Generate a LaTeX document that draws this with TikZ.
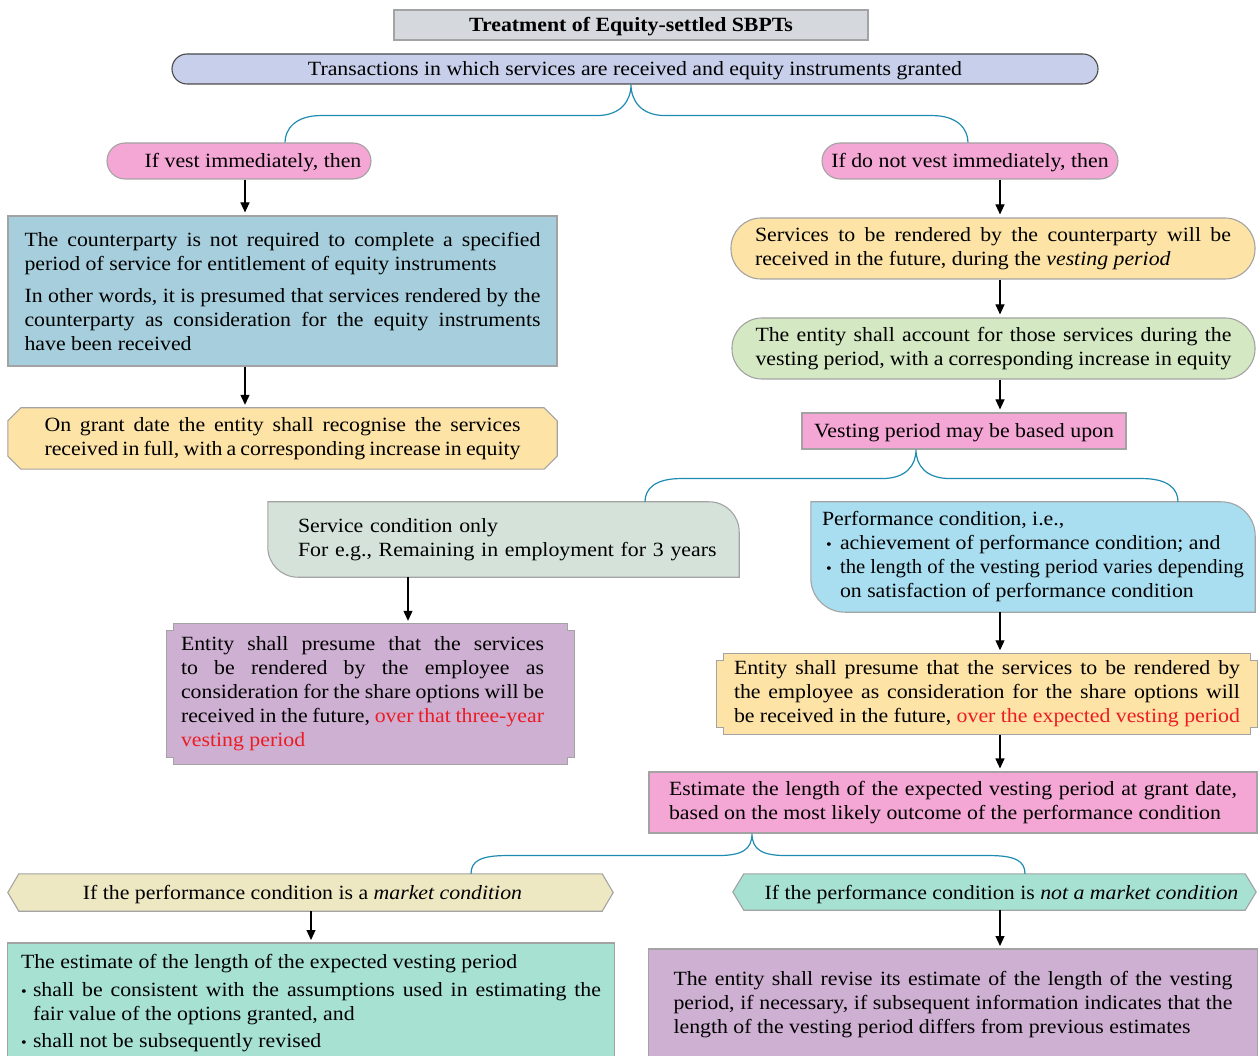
\documentclass[tikz,border=0pt]{standalone}
\usepackage{fontspec}
\usepackage{graphicx}
\setmainfont{Liberation Serif}[FakeStretch=1.08]
\usetikzlibrary{arrows.meta,calc,backgrounds}

\definecolor{edge}{HTML}{A3A3A3}
\definecolor{titlefill}{HTML}{D5D8DD}
\definecolor{transfill}{HTML}{C8CFEA}
\definecolor{transedge}{HTML}{4A4A4A}
\definecolor{pinkfill}{HTML}{F4A6D4}
\definecolor{bluefill}{HTML}{A6CEDC}
\definecolor{yellowfill}{HTML}{FDE3A6}
\definecolor{greenfill}{HTML}{D3E8C3}
\definecolor{sagefill}{HTML}{D4E2DA}
\definecolor{skyfill}{HTML}{A9DEF1}
\definecolor{plumfill}{HTML}{CEB0D2}
\definecolor{khakifill}{HTML}{EEE8C2}
\definecolor{mintfill}{HTML}{A6E1D2}
\definecolor{alert}{HTML}{EC1C24}
\definecolor{bracecol}{HTML}{1E8BB0}

\tikzset{
  txt/.style={font=\fontsize{20.2}{24}\selectfont, inner sep=0pt, align=center},
  oneline/.style={font=\fontsize{20.2}{24}\selectfont, inner sep=0pt, text height=17pt, text depth=3pt},
  para/.style={txt, align=justify, text width=#1},
  boxline/.style={draw=edge, line width=1.1pt},
  plainbox/.style={boxline, fill=#1},
  arr/.style={-{Triangle[length=10pt,width=9pt]}, line width=1.1pt, shorten >=3pt},
  brace/.style={draw=bracecol, line width=1.2pt},
}

% box outlines drawn around an (invisible) node
\newcommand\chamferpath[3]{%
  \path[#3] ($(#1.north west)+(#2,0)$) -- ($(#1.north east)+(-#2,0)$)
    -- ($(#1.north east)+(0,#2)$) -- ($(#1.south east)+(0,-#2)$)
    -- ($(#1.south east)+(-#2,0)$) -- ($(#1.south west)+(#2,0)$)
    -- ($(#1.south west)+(0,-#2)$) -- ($(#1.north west)+(0,#2)$) -- cycle;}
\newcommand\hexpath[3]{%
  \path[#3] ($(#1.north west)+(#2,0)$) -- ($(#1.north east)+(-#2,0)$)
    -- (#1.east) -- ($(#1.south east)+(-#2,0)$)
    -- ($(#1.south west)+(#2,0)$) -- (#1.west) -- cycle;}
% notched corners; #3 widens the outline to the right of the node
\newcommand\notchpath[4]{%
  \coordinate (nNE) at ($(#1.north east)+(#3,0)$);
  \coordinate (nSE) at ($(#1.south east)+(#3,0)$);
  \path[#4] ($(#1.north west)+(#2,0)$) -- ($(nNE)+(-#2,0)$)
    -- ($(nNE)+(-#2,#2)$) -- ($(nNE)+(0,#2)$)
    -- ($(nSE)+(0,-#2)$) -- ($(nSE)+(-#2,-#2)$)
    -- ($(nSE)+(-#2,0)$) -- ($(#1.south west)+(#2,0)$)
    -- ($(#1.south west)+(#2,-#2)$) -- ($(#1.south west)+(0,-#2)$)
    -- ($(#1.north west)+(0,#2)$) -- ($(#1.north west)+(#2,#2)$) -- cycle;}
\newcommand\halfroundpath[3]{%
  \path[#3] (#1.north west) -- ($(#1.north east)+(-#2,0)$)
    arc[start angle=90,end angle=0,radius=#2pt]
    -- (#1.south east) -- ($(#1.south west)+(#2,0)$)
    arc[start angle=270,end angle=180,radius=#2pt] -- cycle;}
% curly split from a parent into two children
\newcommand\fork[4]{%
  \coordinate (lvl) at ($(#1)+(0,#4)$);
  \draw[brace] (#2)
    .. controls ($(#2)+(0,-13)$) and ($(#2|-lvl)+(10,0)$) .. ($(#2|-lvl)+(36,0)$)
    -- ($(#1|-lvl)+(-34,0)$)
    .. controls ($(#1|-lvl)+(-10,0)$) and ($(#1)+(0,16)$) .. (#1)
    .. controls ($(#1)+(0,16)$) and ($(#1|-lvl)+(10,0)$) .. ($(#1|-lvl)+(34,0)$)
    -- ($(#3|-lvl)+(-36,0)$)
    .. controls ($(#3|-lvl)+(-10,0)$) and ($(#3)+(0,-13)$) .. (#3);}
\newcommand\bul[1]{\makebox[#1][l]{\fontsize{15}{15}\selectfont •}}

\begin{document}
\hyphenpenalty=10000
\exhyphenpenalty=10000
\emergencystretch=20pt
\begin{tikzpicture}[x=1pt,y=-1pt]
\useasboundingbox (0,0) rectangle (1259,1056);

% header
\node[oneline, plainbox=titlefill, minimum width=474pt, minimum height=30pt,
      font=\fontsize{20.2}{24}\selectfont\bfseries] (title) at (631,25)
      {Treatment of Equity-settled SBPTs};
\node[oneline, boxline, draw=transedge, fill=transfill, rounded corners=15pt,
      minimum width=926pt, minimum height=30pt] (trans) at (635,69)
      {Transactions in which services are received and equity instruments granted};

% first split
\node[oneline, boxline, fill=pinkfill, rounded corners=18pt, minimum width=264pt,
      minimum height=36pt] (vestY) at (239,161) {\hspace*{28pt}If vest immediately, then};
\node[oneline, boxline, fill=pinkfill, rounded corners=18pt, minimum width=296pt,
      minimum height=36pt] (vestN) at (970,161) {If do not vest immediately, then};

% left column
\node[para=516pt, plainbox=bluefill, minimum width=549pt, minimum height=150pt]
      (blueL) at (282.5,291)
      {The counterparty is not required to complete a specified period of service for entitlement of equity instruments\par\vspace{8pt}
       In other words, it is presumed that services rendered by the\linebreak counterparty as consideration for the equity instruments have been received\par};
\node[para=476pt, minimum width=549pt, minimum height=61pt] (grantY) at (282.5,438.5)
      {On grant date the entity shall recognise the services received in full, with a corresponding increase in equity\par};

% right column
\node[para=476pt, boxline, fill=yellowfill, rounded corners=30pt, minimum width=524pt,
      minimum height=61pt] (servY) at (993,248.5)
      {Services to be rendered by the counterparty will be received in the future, during the \textit{vesting period}\par};
\node[para=476pt, boxline, fill=greenfill, rounded corners=30pt, minimum width=523pt,
      minimum height=61pt] (acct) at (993.5,348.5)
      {The entity shall account for those services during the vesting period, with a corresponding increase in equity\par};
\node[oneline, plainbox=pinkfill, minimum width=324pt, minimum height=36pt] (basis) at (964,431)
      {Vesting period may be based upon};

% second split
\node[txt, align=left, text width=411pt, minimum width=471pt, minimum height=75pt]
      (svc) at (503.5,539.5)
      {Service condition only\\\mbox{For e.g., Remaining in employment for 3 years}};
\node[para=422pt, minimum width=444pt, minimum height=110pt] (perf) at (1033,557)
      {Performance condition, i.e.,\par
       \hangindent=18pt\hangafter=1\noindent\hspace*{4pt}\bul{14pt}achievement of performance condition; and\par
       \hangindent=18pt\hangafter=1\noindent\hspace*{4pt}\bul{14pt}\resizebox{404pt}{\height}{the length of the vesting period varies depending} on satisfaction of performance condition\par};

\node[para=363pt, minimum width=391pt, minimum height=140pt] (plum) at (362.5,694)
      {Entity shall presume that the services to be rendered by the employee as consideration for the share options will be received in the future, \textcolor{alert}{over that three-year vesting period}\par};
\node[para=506pt, minimum width=540pt, minimum height=81pt] (expect) at (987,694)
      {Entity shall presume that the services to be rendered by the employee as consideration for the share options will\linebreak be received in the future, \textcolor{alert}{over the expected vesting period}\par};
\node[para=568pt, plainbox=pinkfill, minimum width=608pt, minimum height=61pt] (estim) at (953,802.5)
      {Estimate the length of the expected vesting period at grant date, based on the most likely outcome of the performance condition\par};

% third split
\node[oneline, minimum width=605pt, minimum height=37pt] (mkt) at (310.5,892.5)
      {\hspace*{-16pt}If the performance condition is a \textit{market condition}};
\node[oneline, minimum width=523pt, minimum height=36pt] (notmkt) at (994.5,892)
      {\hspace*{14pt}If the performance condition is \textit{not a market condition}};

\node[para=580pt, anchor=north, minimum width=606pt, inner ysep=11pt] (fixed) at (311,943)
      {The estimate of the length of the expected vesting period\par\vspace{4pt}
       \hangindent=12pt\hangafter=1\noindent\bul{12pt}shall be consistent with the assumptions used in estimating the\linebreak fair value of the options granted, and\par\vspace{3pt}
       \hangindent=12pt\hangafter=1\noindent\bul{12pt}shall not be subsequently revised\par};
\node[para=559pt, anchor=north, minimum width=608pt, inner ysep=22pt] (revise) at (953,949)
      {The entity shall revise its estimate of the length of the vesting period, if necessary, if subsequent information indicates that the length of the vesting period differs from previous estimates\par};

\begin{pgfonlayer}{background}
  \chamferpath{grantY}{13}{boxline, fill=yellowfill}
  \halfroundpath{svc}{30}{boxline, fill=sagefill}
  \halfroundpath{perf}{34}{boxline, fill=skyfill}
  \notchpath{plum}{7}{16}{boxline, fill=plumfill}
  \notchpath{expect}{7}{0}{boxline, fill=yellowfill}
  \hexpath{mkt}{11}{boxline, fill=khakifill}
  \hexpath{notmkt}{11}{boxline, fill=mintfill}
  \path[boxline, fill=mintfill] (fixed.north west) rectangle ($(fixed.north east)+(0,140)$);
  \path[boxline, fill=plumfill] (revise.north west) rectangle ($(revise.north east)+(0,140)$);
\end{pgfonlayer}

% arrow columns
\coordinate (cL) at (245,0);
\coordinate (cR) at (1000,0);
\coordinate (cS) at (408,0);
\coordinate (cM) at (311,0);
\draw[arr] (vestY.south -| cL) -- (blueL.north -| cL);
\draw[arr] (blueL.south -| cL) -- (grantY.north -| cL);
\draw[arr] (vestN.south -| cR) -- (servY.north -| cR);
\draw[arr] (servY.south -| cR) -- (acct.north -| cR);
\draw[arr] (acct.south -| cR) -- (basis.north -| cR);
\draw[arr] (svc.south -| cS) -- (plum.north -| cS);
\draw[arr] (perf.south -| cR) -- (expect.north -| cR);
\draw[arr] (expect.south -| cR) -- (estim.north -| cR);
\draw[arr] (mkt.south -| cM) -- (fixed.north -| cM);
\draw[arr] (notmkt.south -| cR) -- (revise.north -| cR);

% splits
\coordinate (a1) at ($(trans.south)+(-4,0)$);
\coordinate (l1) at ($(vestY.north)+(46,0)$);
\coordinate (r1) at ($(vestN.north)+(-2,0)$);
\fork{a1}{l1}{r1}{31}
\coordinate (a2) at ($(basis.south)+(-48,0)$);
\coordinate (l2) at ($(svc.north)+(141.5,0)$);
\coordinate (r2) at ($(perf.north)+(145,0)$);
\fork{a2}{l2}{r2}{29}
\coordinate (a3) at ($(estim.south)+(-201,0)$);
\coordinate (l3) at ($(mkt.north)+(160.5,0)$);
\coordinate (r3) at ($(notmkt.north)+(30.5,0)$);
\fork{a3}{l3}{r3}{22}
\end{tikzpicture}
\end{document}
